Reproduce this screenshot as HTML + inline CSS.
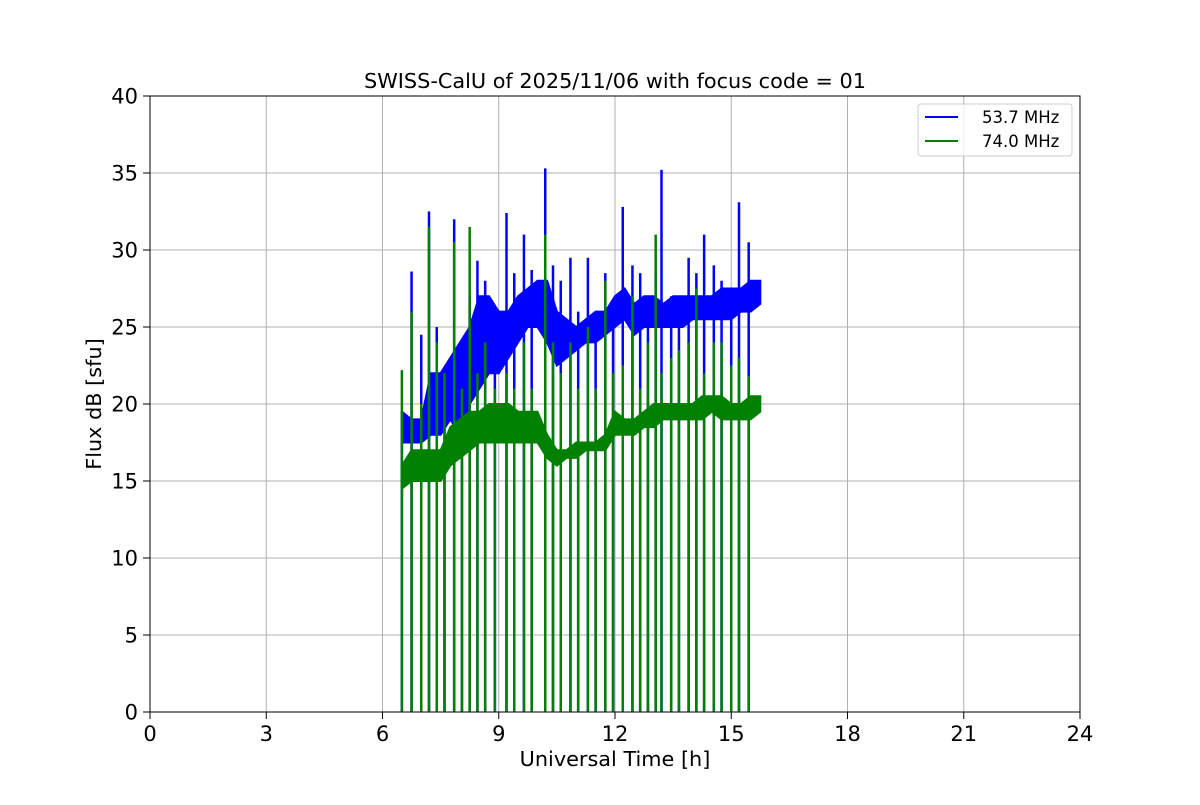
<!DOCTYPE html>
<html><head><meta charset="utf-8"><style>
body{margin:0;background:#fff}
text{font-family:"DejaVu Sans","Liberation Sans",sans-serif}
</style></head><body>
<svg id="chart" width="1200" height="800" xmlns="http://www.w3.org/2000/svg">
<rect width="1200" height="800" fill="#fff"/>
<g id="grid"></g>
<g id="series"></g>
<rect x="150" y="96" width="930" height="616" fill="none" stroke="#000" stroke-width="1"/>
<g id="axes"></g>
<text x="615" y="88" text-anchor="middle" font-size="20.8">SWISS-CalU of 2025/11/06 with focus code = 01</text>
<text x="615" y="766" text-anchor="middle" font-size="20.8">Universal Time [h]</text>
<text transform="translate(101,404) rotate(-90)" text-anchor="middle" font-size="20.8">Flux dB [sfu]</text>
<g>
<rect x="918" y="104" width="154" height="52" rx="3" fill="#fff" fill-opacity="0.8" stroke="#ccc"/>
<g><line x1="925" y1="117" x2="958" y2="117" stroke="#0000ff" stroke-width="2"/><text x="982" y="123" font-size="16.5">53.7 MHz</text></g>
<g><line x1="925" y1="141" x2="958" y2="141" stroke="#008000" stroke-width="2"/><text x="982" y="147" font-size="16.5">74.0 MHz</text></g>
</g>
</svg>
<script>
const xTicks=[0,3,6,9,12,15,18,21,24];
const yTicks=[0,5,10,15,20,25,30,35,40];
const bandTimes=[6.5,6.75,7,7.25,7.5,7.75,8,8.25,8.5,8.75,9,9.25,9.5,9.75,10,10.25,10.5,10.75,11,11.25,11.5,11.75,12,12.25,12.5,12.75,13,13.25,13.5,13.75,14,14.25,14.5,14.75,15,15.25,15.5,15.75];
const blueLo=[17.5,17.5,17.5,18,18,19,18,20,21,22,22,23,24,25,25,24,22.5,23,23.5,24,24,24.5,25,25.5,24.5,25,25,25,25,25,25.5,25.5,25.5,25.5,25.5,26,26,26.5];
const blueHi=[19.5,19,19,22,22,23,24,25,27,27,26,26,27,27.5,28,28,26,25.5,25,25.5,26,26,27,27.5,26.5,27,27,26.5,27,27,27,27,27,27.5,27.5,27.5,28,28];
const greenLo=[14.5,15,15,15,15,16,16.5,17,17.5,17.5,17.5,17.5,17.5,17.5,17.5,16.5,16,16.5,16.5,17,17,17,18,18,18,18.5,18.5,19,19,19,19,19,19.5,19,19,19,19,19.5];
const greenHi=[16,17,17,17,17,18.5,19,19.5,19.5,20,20,20,19.5,19.5,19.5,18,17,17,17.5,17.5,17.5,18,19.5,19,19,19.5,20,20,20,20,20,20.5,20.5,20.5,20,20,20.5,20.5];
const dipTimes=[6.5,6.75,7,7.2,7.4,7.6,7.85,8.05,8.25,8.45,8.65,8.9,9.2,9.4,9.65,9.85,10.2,10.4,10.6,10.85,11.05,11.3,11.5,11.75,11.95,12.2,12.45,12.65,12.85,13.05,13.2,13.45,13.65,13.9,14.1,14.3,14.55,14.75,15,15.2,15.45];
const greenPeaks=[22.2,26,20,31.5,24,22,30.5,21,31.5,22,24,21,22,21,24,21,31,24,22,24,21,25,21,28,22,22.5,27,21,24,31,22,23,23.5,24,27.5,22,24,24,22.5,23,21.8];
const bluePeaks=[19.5,28.6,24.5,32.5,25,21.5,32,23.6,27,29.3,28,26,32.4,28.5,31,28.7,35.3,29,28,29.5,26,29.5,25.5,28.5,25,32.8,29,28.5,26.5,28.5,35.2,27,27,29.5,28.5,31,29,28,27,33.1,30.5];

const NS="http://www.w3.org/2000/svg";
const X=t=>150+t*930/24, Y=v=>712-v*616/40;
function mk(tag,attrs,parent){const e=document.createElementNS(NS,tag);for(const k in attrs)e.setAttribute(k,attrs[k]);parent.appendChild(e);return e;}
const grid=document.getElementById('grid'),axes=document.getElementById('axes'),ser=document.getElementById('series');
xTicks.forEach(t=>{
  const g=mk('line',{x1:X(t),x2:X(t),y1:96,y2:712,stroke:'#b0b0b0','stroke-width':1},grid);
  
  
  mk('line',{x1:X(t),x2:X(t),y1:712,y2:719,stroke:'#000'},axes);
  const l=mk('text',{x:X(t),y:741,'text-anchor':'middle','font-size':21},axes);
  l.textContent=t;
  
  
});
yTicks.forEach(v=>{
  const g=mk('line',{x1:150,x2:1080,y1:Y(v),y2:Y(v),stroke:'#b0b0b0','stroke-width':1},grid);
  
  
  mk('line',{x1:143,x2:150,y1:Y(v),y2:Y(v),stroke:'#000'},axes);
  const l=mk('text',{x:138,y:Y(v)+7.5,'text-anchor':'end','font-size':21},axes);
  l.textContent=v;
  
  
});
function band(lo,hi,color,name){
  let pts=bandTimes.map((t,i)=>X(t)+','+Y(hi[i]));
  for(let i=bandTimes.length-1;i>=0;i--)pts.push(X(bandTimes[i])+','+Y(lo[i]));
  const p=mk('polygon',{points:pts.join(' '),fill:color,stroke:color,'stroke-width':2},ser);
  
  
}
function spikes(peaks,color,name){
  dipTimes.forEach((t,i)=>{
    const l=mk('line',{x1:X(t),x2:X(t),y1:Y(0),y2:Y(peaks[i]),stroke:color,'stroke-width':2.5},ser);
    
    
  });
}
band(blueLo,blueHi,'#0000ff','series-53-7-mhz');
spikes(bluePeaks,'#0000ff','spike-53-7-mhz');
band(greenLo,greenHi,'#008000','series-74-0-mhz');
spikes(greenPeaks,'#008000','spike-74-0-mhz');
</script>
</body></html>
